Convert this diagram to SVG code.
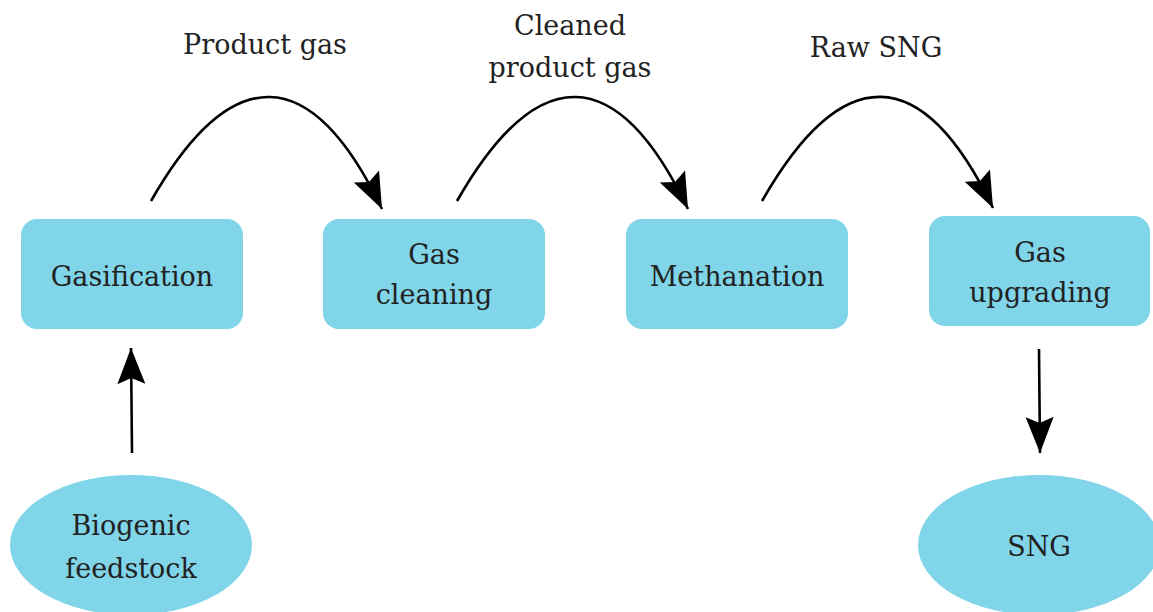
<svg xmlns="http://www.w3.org/2000/svg" width="1153" height="612" viewBox="0 0 1153 612">
<style>
.n{fill:#80d5e9}
.t{font-family:'DejaVu Serif',serif;font-size:27px;fill:#222;text-anchor:middle}
.c{fill:none;stroke:#000;stroke-width:2.6}
</style>
<defs>
<marker id="ah" markerUnits="userSpaceOnUse" markerWidth="44" markerHeight="34" viewBox="-38 -17 44 34" refX="0" refY="0" orient="auto">
<path d="M0,0 L-36,-14 L-30,0 L-36,14 Z" fill="#000"/>
</marker>
</defs>
<g id="gasification"><rect class="n" x="21" y="219" width="222" height="110" rx="16"/><text class="t" x="132" y="286">Gasification</text></g>
<g id="gascleaning"><rect class="n" x="323" y="219" width="222" height="110" rx="16"/><text class="t" x="434" y="264">Gas</text><text class="t" x="434" y="304">cleaning</text></g>
<g id="methanation"><rect class="n" x="626" y="219" width="222" height="110" rx="16"/><text class="t" x="737" y="286">Methanation</text></g>
<g id="gasupgrading"><rect class="n" x="929" y="216" width="221" height="110" rx="16"/><text class="t" x="1040" y="262">Gas</text><text class="t" x="1040" y="302">upgrading</text></g>
<g id="biogenic"><ellipse class="n" cx="131" cy="545" rx="121" ry="70"/><text class="t" x="131" y="535">Biogenic</text><text class="t" x="131" y="578">feedstock</text></g>
<g id="sng"><ellipse class="n" cx="1039" cy="545" rx="121" ry="70"/><text class="t" x="1039" y="556">SNG</text></g>
<g id="labels">
<text class="t" x="265" y="54">Product gas</text>
<text class="t" x="570" y="35">Cleaned</text>
<text class="t" x="570" y="77">product gas</text>
<text class="t" x="876" y="57">Raw SNG</text>
</g>
<g id="connectors">
<path class="c" d="M151,201 C231,61 311,61 382,209" marker-end="url(#ah)"/>
<path class="c" d="M457,201 C537,61 617,61 688,209" marker-end="url(#ah)"/>
<path class="c" d="M762,201 C842,61 922,61 993,208" marker-end="url(#ah)"/>
<path class="c" d="M132,453 L131,348" marker-end="url(#ah)"/>
<path class="c" d="M1039,349 L1040,453" marker-end="url(#ah)"/>
</g>
</svg>
